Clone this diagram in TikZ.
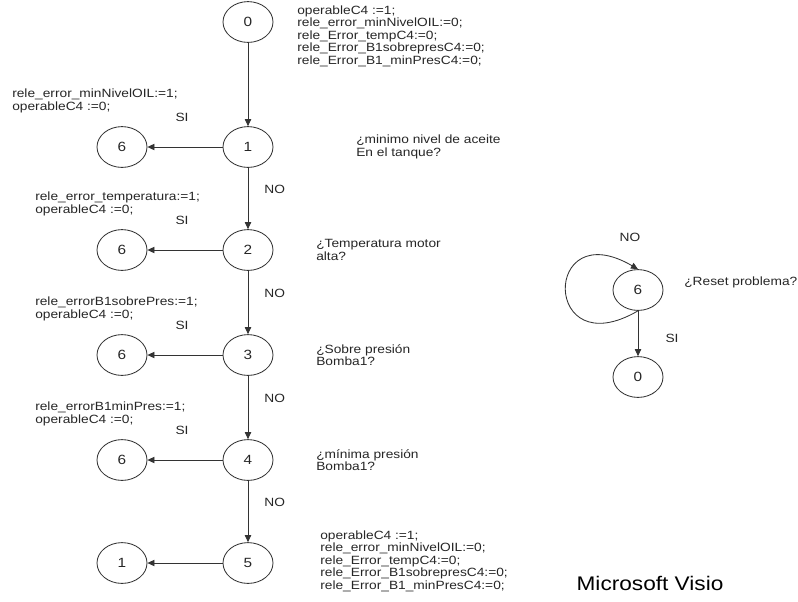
\documentclass[tikz,border=0pt]{standalone}
\usepackage{fontspec}
\setmainfont{Liberation Sans}[FakeStretch=1.15]
\usetikzlibrary{shapes.geometric,arrows.meta}

\begin{document}
\begin{tikzpicture}
[statenode/.style={shape=ellipse,draw=black!80,line width=0.6pt,minimum width=1.25cm,%
    minimum height=1.02cm,inner sep=0pt,text=black!85,font=\fontsize{9.5}{10}\selectfont},%
  arrowdecorate/.style={-{Triangle[length=5pt,width=4.5pt]},draw=black!80,line width=0.6pt},%
  textdecorate/.style={align=left,anchor=west,inner sep=0pt,text=black!85,%
    font=\fontsize{8.5}{8.9}\selectfont},%
  labeldecorate/.style={inner sep=0pt,text=black!85,font=\fontsize{8.5}{8.9}\selectfont}]
\useasboundingbox (0,0) rectangle (19.95,-15.025);
%% states of the main column and their outcomes
\node (m0) at (6.2,-0.55) [statenode] {0};
\foreach \nodename/\y/\llabel in {1/-3.675/6, 2/-6.25/6, 3/-8.875/6, 4/-11.5/6, 5/-14.075/1}
{
  \node (m\nodename) at (6.2,\y) [statenode] {\nodename};
  \node (l\nodename) at (3.05,\y) [statenode] {\llabel};
}
%% edges or transitions
\path (m0) edge[arrowdecorate] (m1);
\path
\foreach \startnode/\endnode in {1/2, 2/3, 3/4, 4/5} {
  (m\startnode) edge[arrowdecorate] node[pos=0.35,right=0.4cm,labeldecorate] {NO} (m\endnode)
};
\path
\foreach \startnode in {1,...,5} {
  (m\startnode) edge[arrowdecorate] (l\startnode)
};
\foreach \k in {1,...,4}
  \node (si\k) at ([shift={(1.5,0.75)}]l\k.center) [labeldecorate] {SI};
%% actions on the left
\foreach \k/\x/\y/\txt in {1/0.3/-2.525/{rele\_error\_minNivelOIL:=1;\\operableC4 :=0;},
  2/0.875/-5.1/{rele\_error\_temperatura:=1;\\operableC4 :=0;},
  3/0.875/-7.725/{rele\_errorB1sobrePres:=1;\\operableC4 :=0;},
  4/0.875/-10.35/{rele\_errorB1minPres:=1;\\operableC4 :=0;}}
  \node (act\k) at (\x,\y) [textdecorate] {\txt};
%% questions on the right
\foreach \k/\x/\txt in {1/8.9/{¿minimo nivel de aceite\\En el tanque?},
  2/7.9/{¿Temperatura motor\\alta?},
  3/7.9/{¿Sobre presión\\Bomba1?},
  4/7.9/{¿mínima presión\\Bomba1?}}
  \node (q\k) at (\x,0 |- m\k) [textdecorate] {\txt};
%% reset blocks
\node (init) at (7.425,-0.9) [textdecorate] {operableC4 :=1;\\rele\_error\_minNivelOIL:=0;\\%
  rele\_Error\_tempC4:=0;\\rele\_Error\_B1sobrepresC4:=0;\\rele\_Error\_B1\_minPresC4:=0;};
\node (done) at (8.0,-14.025) [textdecorate] {operableC4 :=1;\\rele\_error\_minNivelOIL:=0;\\%
  rele\_Error\_tempC4:=0;\\rele\_Error\_B1sobrepresC4:=0;\\rele\_Error\_B1\_minPresC4:=0;};
%% reset problem
\node (r6) at (15.95,-7.25) [statenode] {6};
\node (r0) at (15.95,-9.425) [statenode] {0};
\path (r6) edge[arrowdecorate] (r0);
\draw[arrowdecorate] (r6.south) .. controls +(-2.4,-1.4) and +(-2.4,1.4) .. (r6.north);
\node (rno) at (15.75,-5.925) [labeldecorate] {NO};
\node (rsi) at (16.8,-8.45) [labeldecorate] {SI};
\node (rq) at (17.1,-7.05) [textdecorate] {¿Reset problema?};
\node (visio) at (16.25,-14.575) [font=\fontsize{14}{16}\selectfont] {Microsoft Visio};
\end{tikzpicture}
\end{document}
